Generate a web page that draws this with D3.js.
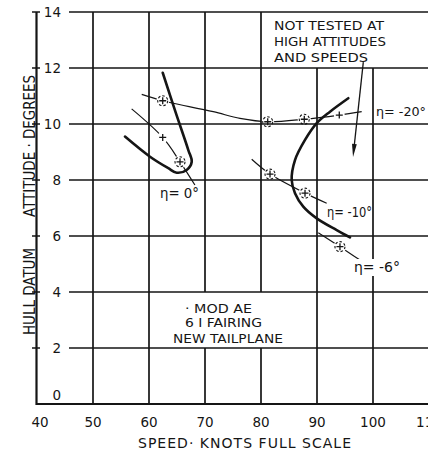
<!DOCTYPE html>
<html><head><meta charset="utf-8">
<script src="https://cdn.jsdelivr.net/npm/d3@7"></script>
<style>html,body{margin:0;padding:0;background:#fff;overflow:hidden}</style>
</head><body>
<svg id="c" width="428" height="455"></svg>
<script>
// ---- data ----
const xTicks = [40, 50, 60, 70, 80, 90, 100, 110];
const yTicks = [0, 2, 4, 6, 8, 10, 12, 14];
// [speed (knots), attitude (deg), marker]  marker: "c" circled plus, "p" plain plus, "" none
const etaZero = [[56.9, 10.54, ""], [62.45, 9.52, "p"], [65.54, 8.65, "c"], [68.2, 7.82, ""]];
const etaMinus20 = [[58.7, 11.06, ""], [62.45, 10.83, "c"], [64.34, 10.74, ""], [71.48, 10.44, ""], [76.25, 10.2, ""],
                    [81.2, 10.08, "c"], [87.73, 10.17, "c"], [93.98, 10.32, "p"], [97.98, 10.44, ""]];
const etaMinus10 = [[78.34, 8.74, ""], [81.61, 8.21, "c"], [87.86, 7.53, "c"], [91.73, 7.17, ""]];
const etaMinus6 = [[90.23, 6.12, ""], [94.1, 5.62, "c"], [97.68, 5.14, ""]];
const limitLeft = [[62.45, 11.83], [64.73, 10.43], [67.02, 9.07], [67.63, 8.65], [66.73, 8.36], [64.95, 8.26],
                   [63.45, 8.42], [60.18, 8.83], [55.71, 9.55]];
const limitRight = [[95.59, 10.92], [92.32, 10.44], [89.95, 10.03], [87.86, 9.43], [86.07, 8.71], [85.48, 8.0],
                    [86.07, 7.53], [87.55, 7.05], [89.95, 6.63], [93.52, 6.21], [95.89, 5.95]];
const arrowFromTo = [[98.27, 12.21], [96.43, 8.82]];
const seriesLabels = ["η= 0°", "η= -20°", "η= -10°", "η= -6°"];
const noteLines = ["NOT TESTED AT", "HIGH ATTITUDES", "AND SPEEDS"];
const modLines = ["· MOD AE", "6 I FAIRING", "NEW TAILPLANE"];
const xTitle = "SPEED· KNOTS FULL SCALE";
const yTitleA = "ATTITUDE · DEGREES";
const yTitleB = "HULL DATUM";

// ---- drawing ----
const svg = d3.select("#c");
const W = 428, H = 455;
const x = d3.scaleLinear().domain([40, 110]).range([37, 429]);
const y = d3.scaleLinear().domain([0, 14]).range([404, 12]);
const ink = "#151515";
const font = "'DejaVu Sans', sans-serif";

svg.append("rect").attr("width", W).attr("height", H).attr("fill", "#fff");

const grid = svg.append("g").attr("stroke", ink).attr("stroke-width", 1.7).attr("fill", "none");
// horizontal gridlines
yTicks.filter(v => v > 0).forEach(v => {
  grid.append("line").attr("x1", 69).attr("x2", W).attr("y1", y(v)).attr("y2", y(v));
});
// vertical gridlines (text box areas left open)
xTicks.filter(v => v > 40).forEach(v => {
  const top = v >= 90 ? 12 : 14;
  const segs = (v === 70 || v === 80) ? [[0, 2], [4, top]] : [[0, top]];
  segs.forEach(s => grid.append("line").attr("x1", x(v)).attr("x2", x(v)).attr("y1", y(s[0])).attr("y2", y(s[1])));
});
// axes
const ax = svg.append("g").attr("stroke", ink).attr("stroke-width", 2.2);
ax.append("line").attr("x1", x(40) - 0.5).attr("x2", x(40) - 0.5).attr("y1", y(14)).attr("y2", y(0) + 1);
ax.append("line").attr("x1", x(40) - 1).attr("x2", W).attr("y1", y(0)).attr("y2", y(0));
yTicks.filter(v => v > 0).forEach(v => {
  ax.append("line").attr("x1", 32).attr("x2", 40).attr("y1", y(v)).attr("y2", y(v)).attr("stroke-width", 1.5);
});

// tick labels
const tl = svg.append("g").attr("font-family", font).attr("font-size", 13.5).attr("fill", ink);
yTicks.forEach(v => {
  tl.append("text").attr("x", 61).attr("y", v === 0 ? y(0) - 4 : y(v) + 5).attr("text-anchor", "end").text(v);
});
xTicks.forEach(v => {
  tl.append("text").attr("x", x(v) + (v === 40 ? 3 : 0)).attr("y", 427).attr("text-anchor", "middle").text(v);
});

// axis titles
svg.append("text").attr("x", 138).attr("y", 448).attr("font-family", font).attr("font-size", 14)
  .attr("fill", ink).attr("textLength", 213).attr("lengthAdjust", "spacing").text(xTitle);
svg.append("text").attr("transform", `translate(34.5,217) rotate(-90)`).attr("font-family", font)
  .attr("font-size", 15).attr("fill", ink).attr("textLength", 142).attr("lengthAdjust", "spacingAndGlyphs").text(yTitleA);
svg.append("text").attr("transform", `translate(34.5,335) rotate(-90)`).attr("font-family", font)
  .attr("font-size", 15).attr("fill", ink).attr("textLength", 87).attr("lengthAdjust", "spacingAndGlyphs").text(yTitleB);

// mask to open gaps in thin lines around markers
const allSeries = [etaZero, etaMinus20, etaMinus10, etaMinus6];
const defs = svg.append("defs");
const mask = defs.append("mask").attr("id", "gaps").attr("maskUnits", "userSpaceOnUse")
  .attr("x", 0).attr("y", 0).attr("width", W).attr("height", H);
mask.append("rect").attr("width", W).attr("height", H).attr("fill", "#fff");
allSeries.forEach(s => s.filter(d => d[2]).forEach(d => {
  mask.append("circle").attr("cx", x(d[0])).attr("cy", y(d[1])).attr("r", d[2] === "c" ? 6.5 : 5.5).attr("fill", "#000");
}));

// thin lines
const thin = d3.line().x(d => x(d[0])).y(d => y(d[1])).curve(d3.curveCatmullRom.alpha(0.5));
const thinG = svg.append("g").attr("mask", "url(#gaps)");
allSeries.forEach(s => {
  thinG.append("path").attr("d", thin(s)).attr("fill", "none").attr("stroke", ink).attr("stroke-width", 1.2);
});

// markers
const mk = svg.append("g").attr("stroke", ink).attr("fill", "none");
allSeries.forEach(s => s.filter(d => d[2]).forEach(d => {
  const cx = x(d[0]), cy = y(d[1]);
  mk.append("path").attr("d", `M${cx - 3.5},${cy}H${cx + 3.5}M${cx},${cy - 3.5}V${cy + 3.5}`).attr("stroke-width", 1.3);
  if (d[2] === "c") mk.append("circle").attr("cx", cx).attr("cy", cy).attr("r", 5)
    .attr("stroke-width", 1.1).attr("stroke-dasharray", "2.5,2");
}));

// thick limit curves
const thick = d3.line().x(d => x(d[0])).y(d => y(d[1])).curve(d3.curveCatmullRom.alpha(0.5));
[limitLeft, limitRight].forEach(s => {
  svg.append("path").attr("d", thick(s)).attr("fill", "none").attr("stroke", ink)
    .attr("stroke-width", 2.6).attr("stroke-linecap", "round");
});

// arrow
const [a0, a1] = arrowFromTo;
const ax0 = x(a0[0]), ay0 = y(a0[1]), ax1 = x(a1[0]), ay1 = y(a1[1]);
const len = Math.hypot(ax1 - ax0, ay1 - ay0), ux = (ax1 - ax0) / len, uy = (ay1 - ay0) / len;
svg.append("line").attr("x1", ax0).attr("y1", ay0).attr("x2", ax1 - ux * 8).attr("y2", ay1 - uy * 8)
  .attr("stroke", ink).attr("stroke-width", 1.3);
const bx = ax1 - ux * 13, by = ay1 - uy * 13;
svg.append("path").attr("d", `M${ax1},${ay1}L${bx - uy * 2.4},${by + ux * 2.4}L${bx + uy * 2.4},${by - ux * 2.4}Z`).attr("fill", ink);

// series labels
const labPos = [[160, 198, 39, 14], [376, 116, 50, 13], [327, 217, 45, 14], [354, 272, 46, 14]];
seriesLabels.forEach((t, i) => {
  const p = labPos[i];
  if (i === 3) svg.append("rect").attr("x", p[0] - 1).attr("y", p[1] - 13).attr("width", p[2] + 2).attr("height", 17).attr("fill", "#fff");
  svg.append("text").attr("x", p[0]).attr("y", p[1]).attr("font-family", font).attr("font-size", p[3])
    .attr("fill", ink).attr("textLength", p[2]).attr("lengthAdjust", "spacingAndGlyphs").text(t);
});

// notes
const noteG = svg.append("g").attr("font-family", font).attr("font-size", 13).attr("fill", ink);
const noteLen = [110, 112, 94];
noteLines.forEach((t, i) => {
  noteG.append("text").attr("x", 274).attr("y", 30 + i * 16).attr("textLength", noteLen[i])
    .attr("lengthAdjust", "spacingAndGlyphs").text(t);
});
const modX = [185, 185, 173], modLen = [67, 77, 110];
modLines.forEach((t, i) => {
  noteG.append("text").attr("x", modX[i]).attr("y", [313, 327, 343][i]).attr("textLength", modLen[i])
    .attr("lengthAdjust", "spacingAndGlyphs").text(t);
});
</script>
</body></html>
